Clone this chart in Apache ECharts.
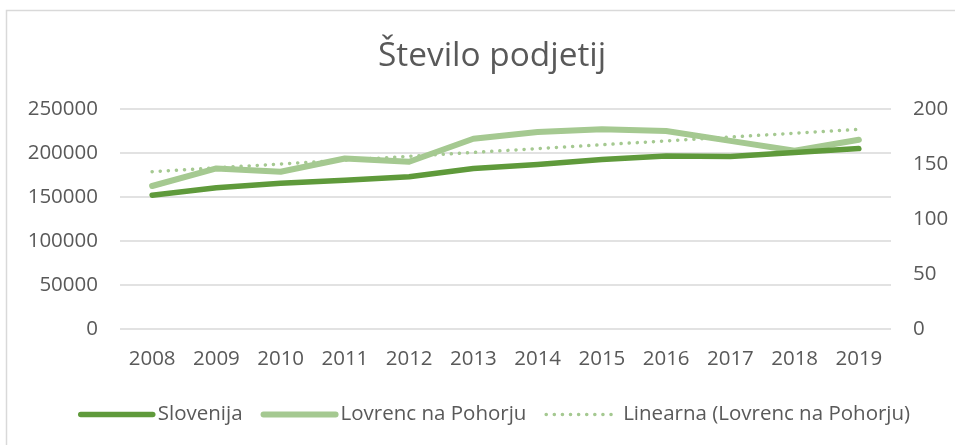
<!DOCTYPE html>
<html>
<head>
<meta charset="utf-8">
<script src="https://cdn.jsdelivr.net/npm/echarts@6/dist/echarts.min.js"></script>
<style>
html,body{margin:0;padding:0;background:#fff;}
#chart{width:955px;height:445px;}
</style>
</head>
<body>
<div id="chart"></div>
<script>
const titleText = 'Število podjetij';
const years = ['2008','2009','2010','2011','2012','2013','2014','2015','2016','2017','2018','2019'];
const slovenija = [152000,160500,165500,169000,173000,182500,187000,192500,196500,196000,200500,205000];
const lovrenc = [130,146,143,155,152,173,179,181.5,180,171,162,172];
// trendline endpoints (2008 and 2019)
const trend = [143,null,null,null,null,null,null,null,null,null,null,181.5];
const leftTicks = [0,50000,100000,150000,200000,250000];
const rightTicks = [0,50,100,150,200];

const FONT = 'Open Sans';
const TXT = '#595959';
const DARK = '#5f9a3b';
const LIGHT = '#a5c991';
const FS = 20.5;

const chart = echarts.init(document.getElementById('chart'), null, {renderer:'canvas'});
chart.setOption({
  animation:false,
  textStyle:{fontFamily:FONT},
  graphic:[{type:'rect',shape:{x:6.5,y:10.5,width:960,height:450},style:{fill:'none',stroke:'#d9d9d9',lineWidth:1.5},silent:true}],
  title:{text:titleText,left:373,top:35,textStyle:{fontFamily:FONT,fontWeight:'normal',fontSize:33.4,color:TXT}},
  grid:{left:120,right:64,top:109,bottom:116,containLabel:false},
  legend:{
    bottom:15,left:73,itemWidth:72,itemHeight:12,itemGap:18,
    textStyle:{fontFamily:FONT,fontSize:FS,color:TXT},
    itemStyle:{opacity:0},
    data:[
      {name:'Slovenija',lineStyle:{width:5.5,color:DARK,cap:'round'}},
      {name:'Lovrenc na Pohorju',lineStyle:{width:6,color:LIGHT,cap:'round'}},
      {name:'Linearna (Lovrenc na Pohorju)',lineStyle:{width:3.5,color:LIGHT,type:[0.1,8],cap:'round'}}
    ]
  },
  xAxis:{type:'category',data:years,boundaryGap:true,
    axisLine:{show:false},axisTick:{show:false},
    axisLabel:{fontFamily:FONT,fontSize:FS,color:TXT,margin:20}},
  yAxis:[
    {type:'value',min:leftTicks[0],max:leftTicks[leftTicks.length-1],interval:50000,
     axisLine:{show:false},axisTick:{show:false},
     axisLabel:{fontFamily:FONT,fontSize:FS,color:TXT,margin:22,formatter:v=>String(v)},
     splitLine:{lineStyle:{color:'#d9d9d9',width:1.5}}},
    {type:'value',min:rightTicks[0],max:rightTicks[rightTicks.length-1],interval:50,
     axisLine:{show:false},axisTick:{show:false},
     axisLabel:{fontFamily:FONT,fontSize:FS,color:TXT,margin:22,formatter:v=>String(v)},
     splitLine:{show:false}}
  ],
  series:[
    {name:'Slovenija',type:'line',data:slovenija,yAxisIndex:0,symbol:'none',
     lineStyle:{color:DARK,width:5.5,cap:'round',join:'round'},itemStyle:{color:DARK},z:3},
    {name:'Lovrenc na Pohorju',type:'line',data:lovrenc,yAxisIndex:1,symbol:'none',
     lineStyle:{color:LIGHT,width:6,cap:'round',join:'round'},itemStyle:{color:LIGHT},z:2},
    {name:'Linearna (Lovrenc na Pohorju)',type:'line',data:trend,yAxisIndex:1,symbol:'none',connectNulls:true,
     lineStyle:{color:LIGHT,width:3.5,type:[0.1,8],cap:'round'},itemStyle:{color:LIGHT},z:4}
  ]
});
</script>
</body>
</html>
